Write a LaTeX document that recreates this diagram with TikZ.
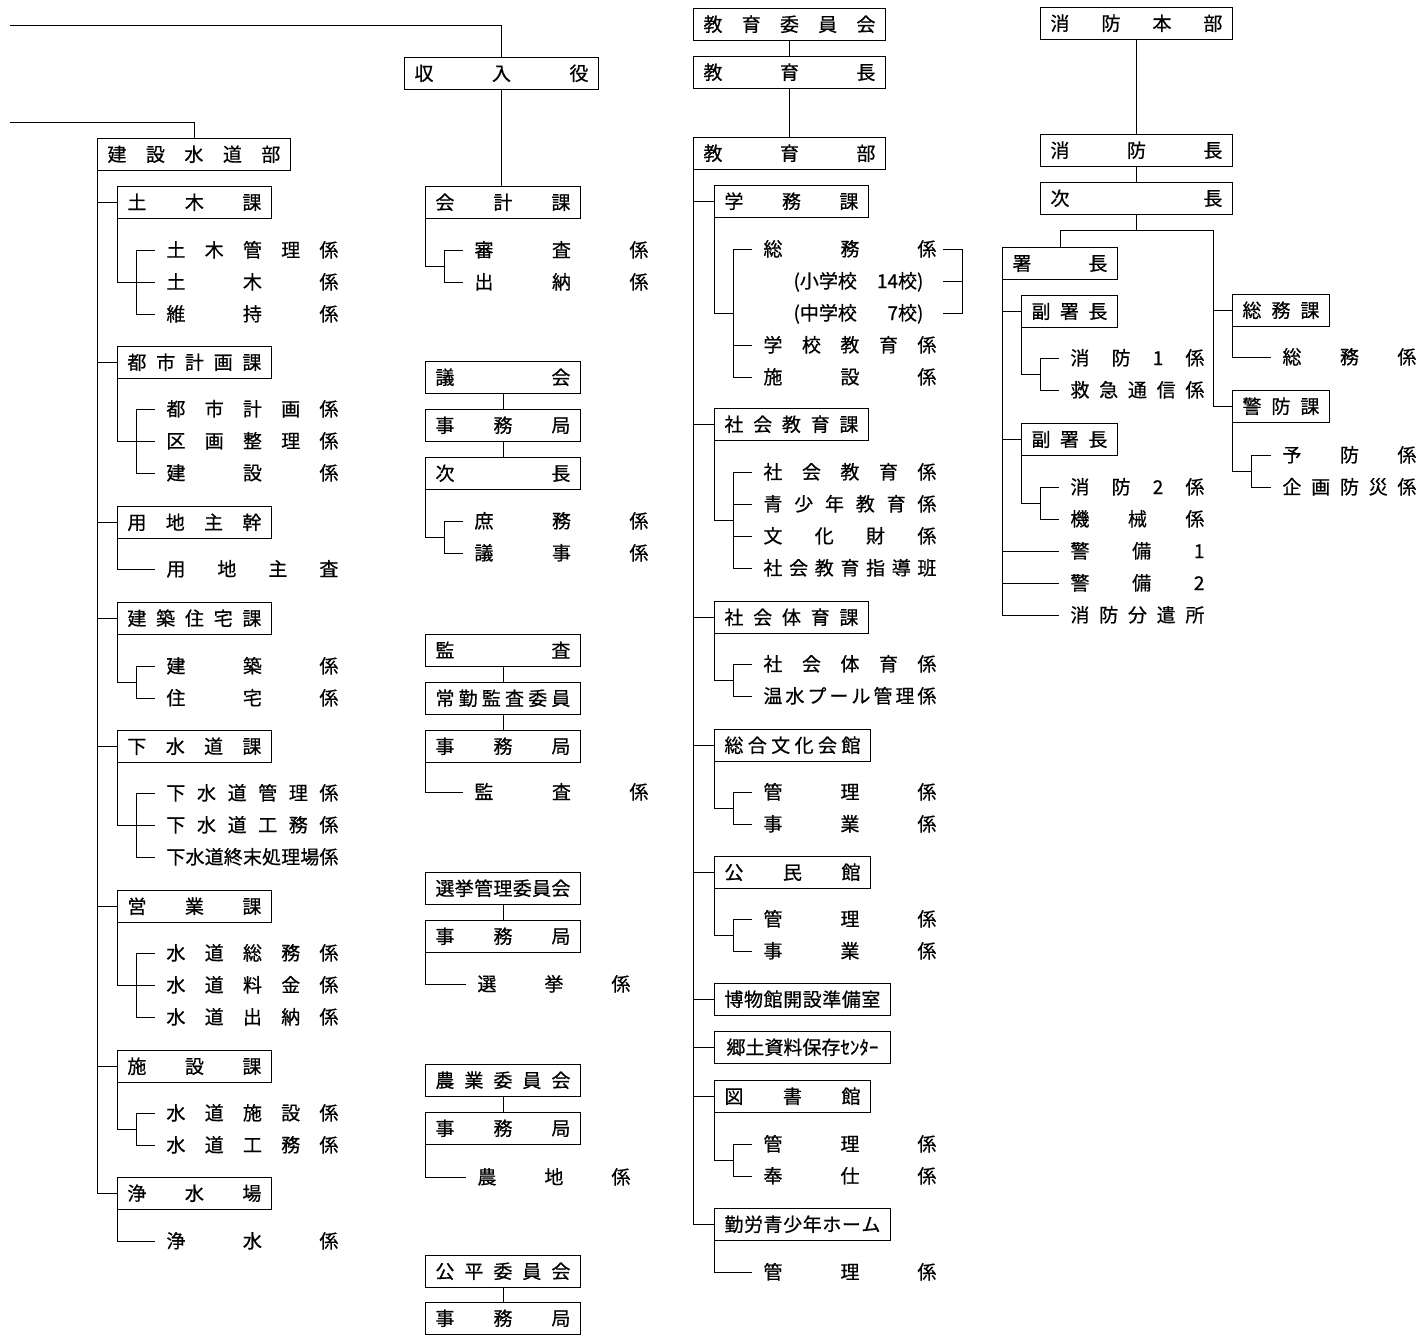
\documentclass[tikz,border=0pt]{standalone}
\usepackage{fontspec}
\newfontfamily\jp[FakeBold=0.6]{Noto Sans CJK JP}
\usetikzlibrary{calc}
\newcommand\jpf{\jp\fontsize{19pt}{19pt}\selectfont}
\def\sprstop{\sprstop}
\def\spr#1{\sprA#1\sprstop}
\def\sprA#1#2{#1\ifx\sprstop#2\else\hfill\expandafter\sprA\expandafter#2\fi}
\tikzset{
 bx/.style={draw, line width=0.9pt, inner sep=0pt, minimum height=32pt, text height=15.5pt, text depth=1.5pt, font=\jpf},
 itm/.style={inner sep=0pt, text height=15.5pt, text depth=1.5pt, font=\jpf, anchor=west},
}
% box: name, left, top, width, text (spread)
\newcommand\bx[5]{\node[bx,minimum width=#4pt,anchor=north west] (#1) at (#2,#3) {\makebox[\dimexpr#4pt-20pt\relax]{\spr{#5}}};}
\newcommand\bxn[5]{\node[bx,minimum width=#4pt,anchor=north west] (#1) at (#2,#3) {#5};}
% item: name, x, y, width, text (spread)
\newcommand\itm[5]{\node[itm] (#1) at (#2,#3) {\makebox[#4pt]{\spr{#5}}};}
\newcommand\itmr[4]{\node[itm] (#1) at (#2,#3) {#4};}
% connectors
\newcommand\stem[2]{\draw (#1.south west) |- ([xshift=-11pt]#2.west);}
\newcommand\brtwo[3]{%
 \coordinate (#1-b) at ([xshift=19pt]#1.south west);
 \draw ([xshift=-11pt]#2.west) -- (#2.west -| #1-b) -- (#3.west -| #1-b) -- ([xshift=-11pt]#3.west);
 \draw (#1.south west) |- ($(#2.west -| #1-b)!.5!(#3.west -| #1-b)$);}
\newcommand\brthree[4]{%
 \coordinate (#1-b) at ([xshift=19pt]#1.south west);
 \draw ([xshift=-11pt]#2.west) -- (#2.west -| #1-b) -- (#4.west -| #1-b) -- ([xshift=-11pt]#4.west);
 \draw (#1.south west) |- ([xshift=-11pt]#3.west);}
\newcommand\brfour[5]{%
 \coordinate (#1-b) at ([xshift=19pt]#1.south west);
 \draw ([xshift=-11pt]#2.west) -- (#2.west -| #1-b) -- (#5.west -| #1-b) -- ([xshift=-11pt]#5.west);
 \draw ([xshift=-11pt]#3.west) -- (#3.west -| #1-b);
 \draw ([xshift=-11pt]#4.west) -- (#4.west -| #1-b);
 \draw (#1.south west) |- ($(#3.west -| #1-b)!.5!(#4.west -| #1-b)$);}
\newcommand\vlink[2]{\draw (#1.south) -- (#1.south |- #2.north);}
\newcommand\hlink[2]{\draw (#2.west) -- (#2.west -| #1.south west);}
\begin{document}
\begin{tikzpicture}[x=1pt,y=-1pt,line width=0.9pt]
\useasboundingbox (0,0) rectangle (1419,1335);

% ================= Column A : 建設水道部 =================
\bx{kensetsu}{97}{138}{193}{建設水道部}
\bx{doboku}{117}{186}{154}{土木課}
\bx{toshi}{117}{346}{154}{都市計画課}
\bx{yochi}{117}{506}{154}{用地主幹}
\bx{kenchiku}{117}{602}{154}{建築住宅課}
\bx{gesui}{117}{730}{154}{下水道課}
\bx{eigyo}{117}{890}{154}{営業課}
\bx{shisetsu}{117}{1050}{154}{施設課}
\bx{josui}{117}{1177}{154}{浄水場}

\itm{d1}{166}{250}{172}{土木管理係}
\itm{d2}{166}{282}{172}{土木係}
\itm{d3}{166}{314}{172}{維持係}
\itm{t1}{166}{409}{172}{都市計画係}
\itm{t2}{166}{441}{172}{区画整理係}
\itm{t3}{166}{473}{172}{建設係}
\itm{y1}{166}{569}{172}{用地主査}
\itm{k1}{166}{666}{172}{建築係}
\itm{k2}{166}{698}{172}{住宅係}
\itm{g1}{166}{793}{172}{下水道管理係}
\itm{g2}{166}{825}{172}{下水道工務係}
\itm{g3}{166}{857}{172}{下水道終末処理場係}
\itm{e1}{166}{953}{172}{水道総務係}
\itm{e2}{166}{985}{172}{水道料金係}
\itm{e3}{166}{1017}{172}{水道出納係}
\itm{s1}{166}{1113}{172}{水道施設係}
\itm{s2}{166}{1145}{172}{水道工務係}
\itm{j1}{166}{1241}{172}{浄水係}

\coordinate (topL2) at (10,122);
\draw (topL2) -| (kensetsu.north);
\draw (kensetsu.south west) |- (josui.west);
\hlink{kensetsu}{doboku}
\hlink{kensetsu}{toshi}
\hlink{kensetsu}{yochi}
\hlink{kensetsu}{kenchiku}
\hlink{kensetsu}{gesui}
\hlink{kensetsu}{eigyo}
\hlink{kensetsu}{shisetsu}
\brthree{doboku}{d1}{d2}{d3}
\brthree{toshi}{t1}{t2}{t3}
\stem{yochi}{y1}
\brtwo{kenchiku}{k1}{k2}
\brthree{gesui}{g1}{g2}{g3}
\brthree{eigyo}{e1}{e2}{e3}
\brtwo{shisetsu}{s1}{s2}
\stem{josui}{j1}

% ================= Column B =================
\bx{shunyu}{404}{57}{194}{収入役}
\bx{kaikei}{425}{186}{155}{会計課}
\itm{ka1}{474}{250}{174}{審査係}
\itm{ka2}{474}{282}{174}{出納係}
\coordinate (topL1) at (10,25);
\draw (topL1) -| (shunyu.north);
\draw (shunyu.south) -- (shunyu.south |- kaikei.north);
\brtwo{kaikei}{ka1}{ka2}

\bx{gikai}{425}{361}{155}{議会}
\bx{jimu1}{425}{409}{155}{事務局}
\bx{jicho}{425}{457}{155}{次長}
\itm{gi1}{474}{521}{174}{庶務係}
\itm{gi2}{474}{553}{174}{議事係}
\vlink{gikai}{jimu1}
\vlink{jimu1}{jicho}
\brtwo{jicho}{gi1}{gi2}

\bx{kansa}{425}{634}{155}{監査}
\bx{jokin}{425}{682}{155}{常勤監査委員}
\bx{jimu2}{425}{730}{155}{事務局}
\itm{ks1}{474}{792}{174}{監査係}
\vlink{kansa}{jokin}
\vlink{jokin}{jimu2}
\stem{jimu2}{ks1}

\bx{senkyo}{425}{872}{155}{選挙管理委員会}
\bx{jimu3}{425}{920}{155}{事務局}
\itm{se1}{477}{984}{153}{選挙係}
\vlink{senkyo}{jimu3}
\stem{jimu3}{se1}

\bx{nogyo}{425}{1064}{155}{農業委員会}
\bx{jimu4}{425}{1112}{155}{事務局}
\itm{no1}{477}{1177}{153}{農地係}
\vlink{nogyo}{jimu4}
\stem{jimu4}{no1}

\bx{kohei}{425}{1255}{155}{公平委員会}
\bx{jimu5}{425}{1302}{155}{事務局}
\vlink{kohei}{jimu5}

% ================= Column C : 教育 =================
\bx{kyoikui}{693}{8}{192}{教育委員会}
\bx{kyoikucho}{693}{56}{192}{教育長}
\bx{kyoikubu}{693}{137}{192}{教育部}
\vlink{kyoikui}{kyoikucho}
\vlink{kyoikucho}{kyoikubu}

\bx{gakumu}{714}{185}{154}{学務課}
\bx{shakyo}{714}{408}{154}{社会教育課}
\bx{shatai}{714}{601}{154}{社会体育課}
\bx{sogo}{714}{729}{156}{総合文化会館}
\bx{komin}{714}{856}{156}{公民館}
\bx{hakubutsu}{714}{983}{176}{博物館開設準備室}
\bxn{kyodo}{714}{1031}{176}{郷土資料保存ｾﾝﾀｰ}
\bx{tosho}{714}{1080}{156}{図書館}
\bx{kinro}{714}{1208}{176}{勤労青少年ホーム}

\itm{gs1}{763}{249}{173}{総務係}
\itmr{gs2}{793}{281}{\makebox[130pt]{(小学校\hfill 14校)}}
\itmr{gs3}{793}{313}{\makebox[130pt]{(中学校\hfill 7校)}}
\itm{gs4}{763}{345}{173}{学校教育係}
\itm{gs5}{763}{377}{173}{施設係}
\itm{sk1}{763}{472}{173}{社会教育係}
\itm{sk2}{763}{504}{173}{青少年教育係}
\itm{sk3}{763}{536}{173}{文化財係}
\itm{sk4}{763}{568}{173}{社会教育指導班}
\itm{st1}{763}{664}{173}{社会体育係}
\itm{st2}{763}{696}{173}{温水プール管理係}
\itm{so1}{763}{792}{173}{管理係}
\itm{so2}{763}{824}{173}{事業係}
\itm{ko1}{763}{919}{173}{管理係}
\itm{ko2}{763}{951}{173}{事業係}
\itm{to1}{763}{1144}{173}{管理係}
\itm{to2}{763}{1176}{173}{奉仕係}
\itm{ki1}{763}{1272}{173}{管理係}

\draw (kyoikubu.south west) |- (kinro.west);
\hlink{kyoikubu}{gakumu}
\hlink{kyoikubu}{shakyo}
\hlink{kyoikubu}{shatai}
\hlink{kyoikubu}{sogo}
\hlink{kyoikubu}{komin}
\hlink{kyoikubu}{hakubutsu}
\hlink{kyoikubu}{kyodo}
\hlink{kyoikubu}{tosho}

\coordinate (gakumu-b) at ([xshift=19pt]gakumu.south west);
\draw ([xshift=-11pt]gs1.west) -- (gs1.west -| gakumu-b) -- (gs5.west -| gakumu-b) -- ([xshift=-11pt]gs5.west);
\draw ([xshift=-11pt]gs4.west) -- (gs4.west -| gakumu-b);
\draw (gakumu.south west) |- (gs3.west -| gakumu-b);
\coordinate (rb) at ([xshift=26pt]gs1.east);
\draw ([xshift=6pt]gs1.east) -- (rb) -- (gs3.east -| rb) -- ($(gs3.east -| gs1.east)+(6,0)$);
\draw ($(gs2.east -| gs1.east)+(6,0)$) -- (gs2.east -| rb);

\brfour{shakyo}{sk1}{sk2}{sk3}{sk4}
\brtwo{shatai}{st1}{st2}
\brtwo{sogo}{so1}{so2}
\brtwo{komin}{ko1}{ko2}
\brtwo{tosho}{to1}{to2}
\stem{kinro}{ki1}

% ================= Column D : 消防 =================
\bx{shobo}{1040}{7}{192}{消防本部}
\bx{shobocho}{1040}{134}{192}{消防長}
\bx{jicho2}{1040}{182}{192}{次長}
\vlink{shobo}{shobocho}
\vlink{shobocho}{jicho2}

\bx{shocho}{1002}{247}{115}{署長}
\bx{fuku1}{1021}{295}{96}{副署長}
\bx{fuku2}{1021}{423}{96}{副署長}
\bx{somuka}{1232}{294}{97}{総務課}
\bx{keibo}{1232}{390}{97}{警防課}

\itm{f1}{1070}{358}{134}{消防1係}
\itm{f2}{1070}{390}{134}{救急通信係}
\itm{f3}{1070}{487}{134}{消防2係}
\itm{f4}{1070}{519}{134}{機械係}
\itm{keibi1}{1070}{551}{134}{警備1}
\itm{keibi2}{1070}{583}{134}{警備2}
\itm{bunken}{1070}{615}{134}{消防分遣所}
\itm{sm1}{1282}{357}{134}{総務係}
\itm{kb1}{1282}{455}{134}{予防係}
\itm{kb2}{1282}{487}{134}{企画防災係}

\coordinate (fj) at ($(jicho2.south)+(0,16)$);
\coordinate (fr) at ($(somuka.west |- fj)+(-19,0)$);
\draw (jicho2.south) -- (fj);
\draw (shocho.north) |- (fr) |- (keibo.west);
\draw (somuka.west) -- (somuka.west -| fr);

\draw (shocho.south west) |- ([xshift=-11pt]bunken.west);
\hlink{shocho}{fuku1}
\hlink{shocho}{fuku2}
\draw (keibi1.west -| shocho.south west) -- ([xshift=-11pt]keibi1.west);
\draw (keibi2.west -| shocho.south west) -- ([xshift=-11pt]keibi2.west);
\brtwo{fuku1}{f1}{f2}
\brtwo{fuku2}{f3}{f4}
\stem{somuka}{sm1}
\brtwo{keibo}{kb1}{kb2}

\end{tikzpicture}
\end{document}
